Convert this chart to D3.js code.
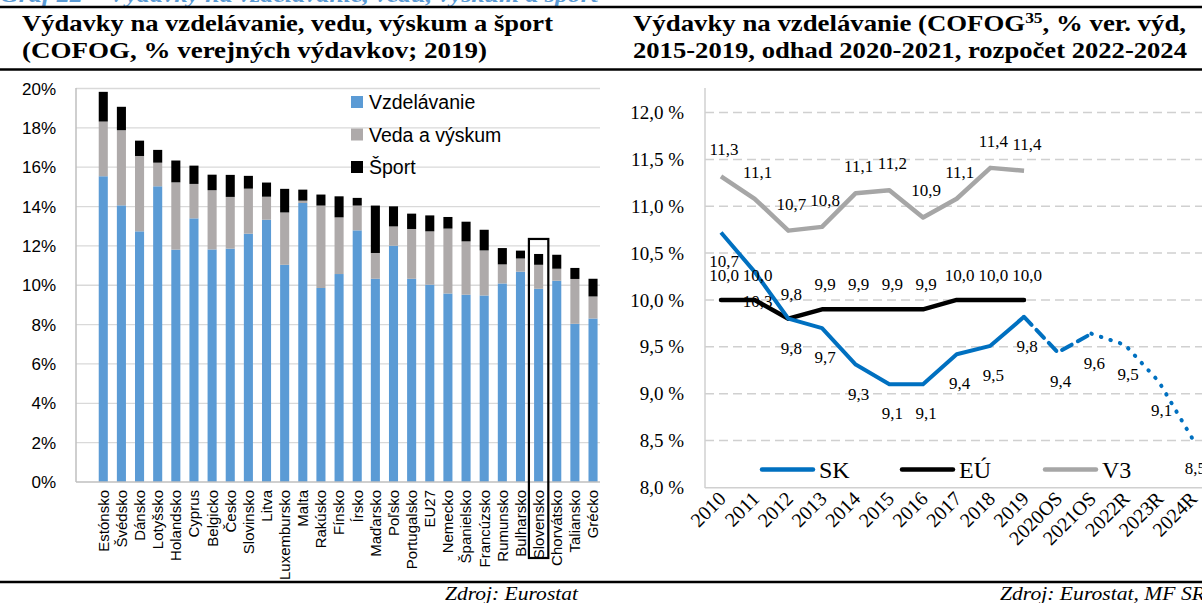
<!DOCTYPE html>
<html lang="sk">
<head>
<meta charset="UTF-8">
<title>Výdavky na vzdelávanie</title>
<script src="https://d3js.org/d3.v7.min.js"></script>
<style>
  body { margin: 0; background: #fff; }
  svg { display: block; }
  .title { font-family: "Liberation Serif", serif; font-weight: bold; font-size: 23px; fill: #000; }
  .sans { font-family: "Liberation Sans", Arial, sans-serif; fill: #000; }
  .serif { font-family: "Liberation Serif", "Times New Roman", serif; fill: #000; }
</style>
</head>
<body>
<svg width="1202" height="603"></svg>
<script>
// left chart data (% of public expenditure, 2019)
const countries = ["Estónsko", "Švédsko", "Dánsko", "Lotyšsko", "Holandsko", "Cyprus", "Belgicko", "Česko",
  "Slovinsko", "Litva", "Luxembursko", "Malta", "Rakúsko", "Fínsko", "Írsko", "Maďarsko", "Poľsko",
  "Portugalsko", "EU27", "Nemecko", "Španielsko", "Francúzsko", "Rumunsko", "Bulharsko", "Slovensko",
  "Chorvátsko", "Taliansko", "Grécko"];
const vzdelavanie = [15.54, 14.06, 12.74, 15.03, 11.81, 13.40, 11.82, 11.86, 12.62, 13.33, 11.04, 14.18, 9.86, 10.57,
  12.79, 10.33, 12.01, 10.33, 10.03, 9.58, 9.52, 9.48, 10.09, 10.69, 9.82, 10.23, 8.04, 8.31];
const vedaVyskum = [2.78, 3.82, 3.83, 1.20, 3.42, 1.75, 3.01, 2.63, 2.29, 1.17, 2.66, 0.12, 4.19, 2.88,
  1.26, 1.31, 0.98, 2.53, 2.71, 3.30, 2.71, 2.29, 0.97, 0.67, 1.22, 0.61, 2.28, 1.12];
const sport = [1.51, 1.19, 0.78, 0.65, 1.11, 0.93, 0.79, 1.12, 0.65, 0.72, 1.20, 0.56, 0.56, 1.07,
  0.39, 2.41, 1.02, 0.78, 0.81, 0.59, 1.00, 1.05, 0.83, 0.40, 0.55, 0.71, 0.56, 0.90];
const leftTicks = [0, 2, 4, 6, 8, 10, 12, 14, 16, 18, 20];
const seriesNames = ["Vzdelávanie", "Veda a výskum", "Šport"];
const seriesColors = ["#5B9BD5", "#AEAAAA", "#000000"];

// right chart data (% of public expenditure)
const years = ["2010", "2011", "2012", "2013", "2014", "2015", "2016", "2017", "2018", "2019",
  "2020OS", "2021OS", "2022R", "2023R", "2024R"];
const sk = [10.72, 10.3, 9.8, 9.7, 9.31, 9.1, 9.1, 9.42, 9.51, 9.82, 9.44, 9.64, 9.52, 9.13, 8.52];
const eu = [10.0, 10.0, 9.8, 9.9, 9.9, 9.9, 9.9, 10.0, 10.0, 10.0];
const v3 = [11.32, 11.08, 10.74, 10.78, 11.14, 11.17, 10.88, 11.08, 11.41, 11.38];
const rightTicks = [8.0, 8.5, 9.0, 9.5, 10.0, 10.5, 11.0, 11.5, 12.0];

const svg = d3.select("svg");
const comma = v => v.toFixed(1).replace(".", ",");

// header
svg.append("text").attr("x", 0).attr("y", 2)
  .attr("font-family", "Liberation Serif, serif").attr("font-weight", "bold").attr("font-style", "italic")
  .attr("font-size", 21).attr("fill", "#5B9BD5")
  .attr("textLength", 598).attr("lengthAdjust", "spacingAndGlyphs")
  .text("Graf 22 – Výdavky na vzdelávanie, vedu, výskum a šport");
[[0, 600], [600, 1202]].forEach(([a, b]) => {
  svg.append("line").attr("x1", a).attr("x2", b).attr("y1", 7).attr("y2", 7).attr("stroke", "#000").attr("stroke-width", 2.5);
  svg.append("line").attr("x1", a).attr("x2", b).attr("y1", 69.5).attr("y2", 69.5).attr("stroke", "#000").attr("stroke-width", 2.5);
  svg.append("line").attr("x1", a).attr("x2", b).attr("y1", 582).attr("y2", 582).attr("stroke", "#000").attr("stroke-width", 2.5);
});
const title = (tx, ty, len, s) => svg.append("text").attr("class", "title").attr("x", tx).attr("y", ty)
  .attr("textLength", len).attr("lengthAdjust", "spacingAndGlyphs").text(s);
title(22, 31, 531, "Výdavky na vzdelávanie, vedu, výskum a šport");
title(22, 58, 465, "(COFOG, % verejných výdavkov; 2019)");
const t2 = svg.append("text").attr("class", "title").attr("x", 633).attr("y", 31)
  .attr("textLength", 553).attr("lengthAdjust", "spacingAndGlyphs");
t2.append("tspan").text("Výdavky na vzdelávanie (COFOG");
t2.append("tspan").attr("font-size", 15).attr("dy", -8).text("35");
t2.append("tspan").attr("dy", 8).text(", % ver. výd,");
title(633, 58, 554, "2015-2019, odhad 2020-2021, rozpočet 2022-2024");

svg.append("text").attr("class", "serif").attr("font-style", "italic").attr("font-size", 19)
  .attr("x", 445).attr("y", 600).attr("textLength", 133).attr("lengthAdjust", "spacingAndGlyphs").text("Zdroj: Eurostat");
svg.append("text").attr("class", "serif").attr("font-style", "italic").attr("font-size", 19)
  .attr("x", 1000).attr("y", 600).attr("textLength", 205).attr("lengthAdjust", "spacingAndGlyphs").text("Zdroj: Eurostat, MF SR");

// ---------- left: stacked bars ----------
const x = d3.scaleBand().domain(countries).range([94.2, 602.1]).paddingInner(0.5).paddingOuter(0.25);
const y = d3.scaleLinear().domain([0, 20]).range([482, 88.5]);

const left = svg.append("g");
left.selectAll(".grid").data(leftTicks.slice(1)).join("line")
  .attr("x1", 76).attr("x2", 600).attr("y1", d => y(d)).attr("y2", d => y(d))
  .attr("stroke", "#d9d9d9").attr("stroke-width", 1.3);
left.selectAll(".ytick").data(leftTicks).join("text")
  .attr("class", "sans").attr("font-size", 17).attr("text-anchor", "end")
  .attr("x", 56).attr("y", d => y(d)).attr("dy", "0.36em").text(d => d + "%");

const rows = countries.map((c, i) => ({ c, a: vzdelavanie[i], b: vedaVyskum[i], s: sport[i] }));
const stacked = d3.stack().keys(["a", "b", "s"])(rows);
left.selectAll(".layer").data(stacked).join("g")
  .attr("fill", (d, i) => seriesColors[i])
  .selectAll("rect").data(d => d).join("rect")
  .attr("x", d => x(d.data.c)).attr("width", x.bandwidth())
  .attr("y", d => y(d[1])).attr("height", d => y(d[0]) - y(d[1]));

left.append("line").attr("x1", 76).attr("x2", 76).attr("y1", 88).attr("y2", 482).attr("stroke", "#bfbfbf").attr("stroke-width", 1.5);
left.append("line").attr("x1", 76).attr("x2", 600).attr("y1", 482).attr("y2", 482).attr("stroke", "#bfbfbf").attr("stroke-width", 1.5);

left.selectAll(".xlab").data(countries).join("text")
  .attr("class", "sans").attr("font-size", 15).attr("text-anchor", "end")
  .attr("transform", d => `translate(${x(d) + x.bandwidth() / 2},490) rotate(-90)`)
  .attr("dy", "0.36em").text(d => d);

// highlight Slovensko
const skRow = rows[countries.indexOf("Slovensko")];
const skTop = y(skRow.a + skRow.b + skRow.s) - 15;
const skCx = x("Slovensko") + x.bandwidth() / 2;
left.append("rect").attr("x", skCx - 9.7).attr("width", 19.4)
  .attr("y", skTop).attr("height", 558 - skTop)
  .attr("fill", "none").attr("stroke", "#000").attr("stroke-width", 2.2);

// legend
const lg = left.append("g");
seriesNames.forEach((n, i) => {
  const gy = 102 + i * 32.5;
  lg.append("rect").attr("x", 351).attr("y", gy - 6).attr("width", 12).attr("height", 12).attr("fill", seriesColors[i]);
  lg.append("text").attr("class", "sans").attr("font-size", 19.5).attr("x", 369).attr("y", gy).attr("dy", "0.36em").text(n);
});

// ---------- right: lines ----------
const xr = d3.scalePoint().domain(years).range([721, 1192.4]);
const yr = d3.scaleLinear().domain([8, 12]).range([487.3, 112.6]);
const right = svg.append("g");

right.selectAll(".grid").data(rightTicks.slice(1)).join("line")
  .attr("x1", 705).attr("x2", 1202).attr("y1", d => yr(d)).attr("y2", d => yr(d))
  .attr("stroke", "#d0d0d0").attr("stroke-width", 1.5).attr("stroke-dasharray", "9,5");
right.append("line").attr("x1", 705).attr("x2", 705).attr("y1", 88).attr("y2", 488).attr("stroke", "#d0d0d0").attr("stroke-width", 1.5);
right.append("line").attr("x1", 705).attr("x2", 1202).attr("y1", 487.8).attr("y2", 487.8).attr("stroke", "#d0d0d0").attr("stroke-width", 1.5);
right.selectAll(".ytick").data(rightTicks).join("text")
  .attr("class", "serif").attr("font-size", 19).attr("text-anchor", "end")
  .attr("x", 684).attr("y", d => yr(d)).attr("dy", "0.35em").text(d => comma(d) + " %");

right.selectAll(".xlab").data(years).join("text")
  .attr("class", "serif").attr("font-size", 20).attr("text-anchor", "end")
  .attr("transform", d => `translate(${xr(d) + 6},500) rotate(-45)`).text(d => d);

const line = d3.line().x(d => xr(d[0])).y(d => yr(d[1]));
const pts = (vals, from, to) => vals.map((v, i) => [years[i], v]).slice(from, to);

right.append("path").attr("d", line(pts(v3, 0, 10))).attr("fill", "none").attr("stroke", "#A6A6A6").attr("stroke-width", 4.5).attr("stroke-linejoin", "round");
right.append("path").attr("d", line(pts(eu, 0, 10))).attr("fill", "none").attr("stroke", "#000").attr("stroke-width", 4.5).attr("stroke-linejoin", "round").attr("stroke-linecap", "round");
right.append("path").attr("d", line(pts(sk, 0, 10))).attr("fill", "none").attr("stroke", "#0070C0").attr("stroke-width", 4).attr("stroke-linejoin", "round");
right.append("path").attr("d", line(pts(sk, 9, 12))).attr("fill", "none").attr("stroke", "#0070C0").attr("stroke-width", 4)
  .attr("stroke-dasharray", "11,7").attr("stroke-linecap", "round").attr("stroke-linejoin", "round");
right.append("path").attr("d", line(pts(sk, 11, 15))).attr("fill", "none").attr("stroke", "#0070C0").attr("stroke-width", 4)
  .attr("stroke-dasharray", "0.5,9.5").attr("stroke-linecap", "round");

// data labels
const addLabels = (vals, off) => right.append("g").selectAll("text").data(vals).join("text")
  .attr("class", "serif").attr("font-size", 17).attr("text-anchor", "middle")
  .attr("x", (d, i) => xr(years[i]) + 3).attr("y", (d, i) => yr(d) + off).attr("dy", "0.35em")
  .text(d => comma(d));
addLabels(v3, -27);
addLabels(eu, -25);
addLabels(sk, 29);

// legend
const rlg = [["SK", "#0070C0", 762], ["EÚ", "#000", 902], ["V3", "#A6A6A6", 1045]];
rlg.forEach(([n, c, lx]) => {
  right.append("line").attr("x1", lx).attr("x2", lx + 51).attr("y1", 469.5).attr("y2", 469.5)
    .attr("stroke", c).attr("stroke-width", 4.5).attr("stroke-linecap", "round");
  right.append("text").attr("class", "serif").attr("font-size", 24).attr("x", lx + 57).attr("y", 478).text(n);
});
</script>
</body>
</html>
